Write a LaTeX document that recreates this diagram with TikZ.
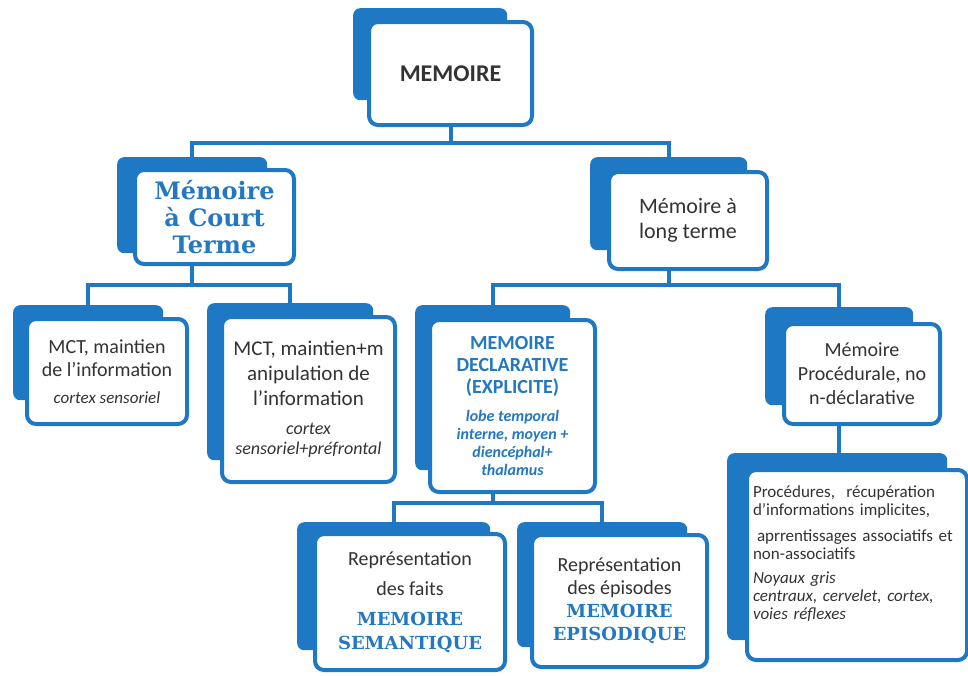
\documentclass[tikz,border=0pt]{standalone}
\usepackage{fontspec}
\setmainfont{Carlito}
\newfontfamily\slabfont{DejaVu Serif}
\usetikzlibrary{backgrounds,calc}
\definecolor{mblue}{HTML}{1F78C4}
\definecolor{tblue}{HTML}{2478C0}
\definecolor{tgray}{HTML}{333333}
\newcommand{\fs}[2]{\fontsize{#1}{#2}\selectfont}
\newcommand{\slabt}[1]{{\slabfont\bfseries\color{tblue}\fs{18}{22}#1}}
\newcommand{\itl}[2]{{\itshape\fs{#1}{#1}#2}}
\tikzset{
  backbox/.style={fill=mblue, rounded corners=7pt, inner sep=0pt, anchor=north west},
  frontbox/.style={draw=mblue, line width=4pt, fill=white, rounded corners=9pt,
    inner sep=0pt, anchor=north west, align=center, text=tgray},
  conn/.style={draw=mblue, line width=4pt},
}
\begin{document}
\begin{tikzpicture}[x=1pt,y=-1pt]
\useasboundingbox (0,0) rectangle (968,675);
\coordinate (h1) at (0,143);
\coordinate (h2) at (0,285);
\coordinate (h3) at (0,503);
% back boxes
\node[backbox, minimum width=154pt, minimum height=92pt] (memb) at (353,8) {};
\node[backbox, minimum width=150pt, minimum height=96pt] (mctb) at (117,157) {};
\node[backbox, minimum width=157pt, minimum height=93pt] (mltb) at (590,157) {};
\node[backbox, minimum width=150pt, minimum height=95pt] (mcta) at (13,305) {};
\node[backbox, minimum width=166pt, minimum height=157pt] (mctc) at (207,303) {};
\node[backbox, minimum width=155pt, minimum height=165pt] (declb) at (415,305) {};
\node[backbox, minimum width=148pt, minimum height=98pt] (procb) at (765,307) {};
\node[backbox, minimum width=220pt, minimum height=187pt] (procdb) at (727,453) {};
\node[backbox, minimum width=193pt, minimum height=128pt] (semb) at (297,522) {};
\node[backbox, minimum width=170pt, minimum height=125pt] (epib) at (517,522) {};
% front boxes
\node[frontbox, minimum width=163pt, minimum height=103pt, font=\fs{24}{28}\bfseries] (mem) at (367,20) {MEMOIRE};
\node[frontbox, minimum width=159pt, minimum height=94pt, text=tblue, font=\slabfont\bfseries\fs{24}{27}] (mct) at (133,168) {Mémoire\\à Court\\Terme};
\node[frontbox, minimum width=158pt, minimum height=97pt, font=\fs{22}{25}] (mlt) at (607,170) {Mémoire à\\long terme};
\node[frontbox, minimum width=160pt, minimum height=105pt, font=\fs{20}{23}] (mct1) at (25,317) {MCT, maintien\\de l'information\\[4pt]\itl{17}{cortex sensoriel}};
\node[frontbox, minimum width=173pt, minimum height=165pt, font=\fs{21}{25}] (mct2) at (220,315) {MCT, maintien+m\\anipulation de\\l'information\\[4pt]\itl{18}{cortex}\\[-5pt]\itl{18}{sensoriel+préfrontal}};
\node[frontbox, minimum width=165pt, minimum height=172pt, text=tblue, font=\fs{20}{22}\bfseries] (decl) at (428,318) {MEMOIRE\\DECLARATIVE\\(EXPLICITE)\\[6pt]\itl{16}{lobe temporal}\\[-4pt]\itl{16}{interne, moyen +}\\[-4pt]\itl{16}{diencéphal+}\\[-4pt]\itl{16}{thalamus}};
\node[frontbox, minimum width=156pt, minimum height=100pt, font=\fs{20}{24}] (proc) at (782,322) {Mémoire\\Procédurale, no\\n-déclarative};
\node[frontbox, minimum width=220pt, minimum height=190pt, align=left, text width=208pt, font=\fs{17}{18}] (procd) at (745,468) {Procédures,\ \ récupération\\d'informations implicites,\\[8pt]\hspace*{4pt}aprrentissages associatifs et\\non-associatifs\\[6pt]\itshape Noyaux gris\\\itshape centraux, cervelet, cortex,\\\itshape voies réflexes\\[6pt]\mbox{}};
\node[frontbox, minimum width=190pt, minimum height=136pt, font=\fs{20}{24}] (sem) at (313,532) {Représentation\\[6pt]des faits\\[6pt]\slabt{MEMOIRE}\\\slabt{SEMANTIQUE}};
\node[frontbox, minimum width=175pt, minimum height=132pt, font=\fs{20}{23}] (epi) at (530,533) {Représentation\\des épisodes\\\slabt{MEMOIRE}\\\slabt{EPISODIQUE}};
% connectors
\begin{scope}[on background layer]
\draw[conn] (mem.south) -- (mem.south |- h1);
\draw[conn] (mctb.north) -- (mctb.north |- h1) -- (mltb.north |- h1) -- (mltb.north);
\draw[conn] (mctb.center |- mct.south) -- (mctb.center |- h2);
\draw[conn] (mcta.north) -- (mcta.north |- h2) -- (mctc.north |- h2) -- (mctc.north);
\draw[conn] (mltb.center |- mlt.south) -- (mltb.center |- h2);
\draw[conn] (declb.north) -- (declb.north |- h2) -- (procb.north |- h2) -- (procb.north);
\draw[conn] (declb.center |- decl.south) -- (declb.center |- h3);
\draw[conn] (semb.north) -- (semb.north |- h3) -- (epib.north |- h3) -- (epib.north);
\draw[conn] (procb.center |- proc.south) -- (procb.center |- procdb.north);
\end{scope}
\end{tikzpicture}
\end{document}
